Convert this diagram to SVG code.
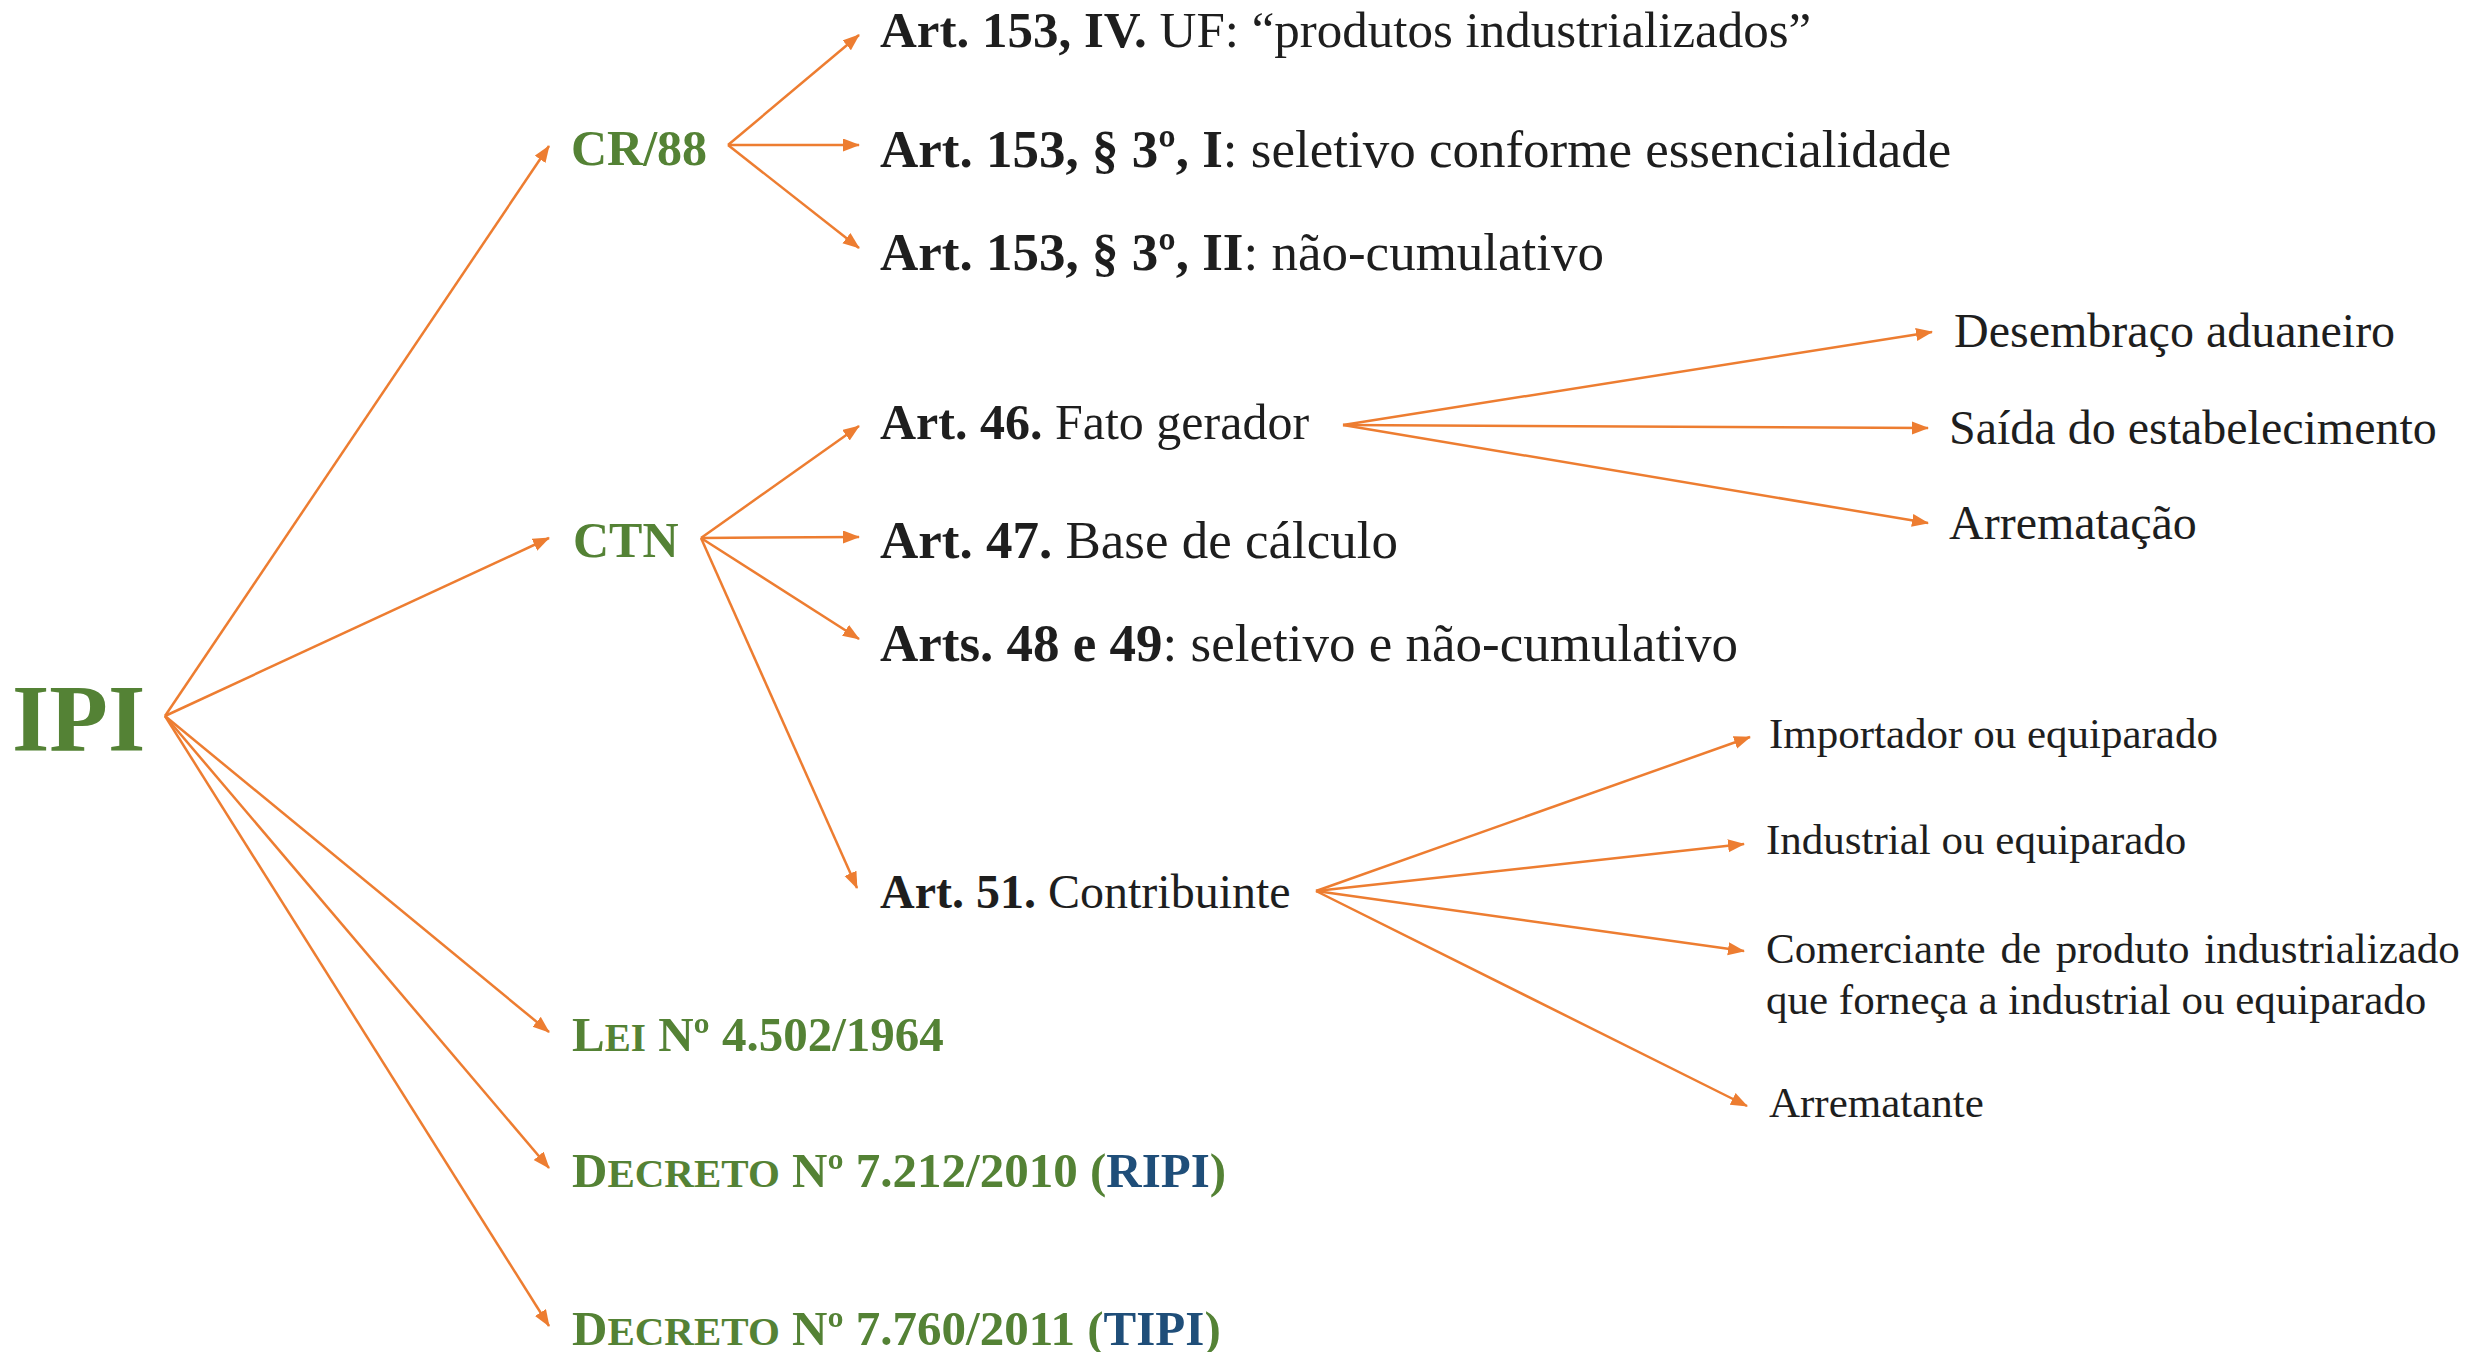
<svg xmlns="http://www.w3.org/2000/svg" width="2483" height="1352" viewBox="0 0 2483 1352">
<defs>
<marker id="ah" markerUnits="userSpaceOnUse" markerWidth="18" markerHeight="14" refX="16" refY="6.5" orient="auto">
<path d="M0,0 L17,6.5 L0,13 z" fill="#ED7D31"/>
</marker>
<style>
text{font-family:"Liberation Serif","Times New Roman",serif}
.g{fill:#548235;font-weight:bold}
.b{fill:#1F4E79}
.t{fill:#1e1e1e}
.bd{font-weight:bold}
.c line{stroke:#ED7D31;stroke-width:2.5;fill:none;marker-end:url(#ah)}
</style>
</defs>
<rect width="2483" height="1352" fill="#fff"/>

<g class="c" id="connectors">
<line x1="165" y1="716" x2="549" y2="146"/>
<line x1="165" y1="716" x2="549" y2="538"/>
<line x1="165" y1="716" x2="549" y2="1032"/>
<line x1="165" y1="716" x2="549" y2="1168"/>
<line x1="165" y1="716" x2="549" y2="1326"/>
<line x1="728" y1="145" x2="859" y2="35"/>
<line x1="728" y1="145" x2="859" y2="145"/>
<line x1="728" y1="145" x2="859" y2="248"/>
<line x1="701" y1="538" x2="859" y2="426"/>
<line x1="701" y1="538" x2="859" y2="537"/>
<line x1="701" y1="538" x2="859" y2="639"/>
<line x1="701" y1="538" x2="857" y2="888"/>
<line x1="1343" y1="425" x2="1932" y2="332"/>
<line x1="1343" y1="425" x2="1928" y2="428"/>
<line x1="1343" y1="425" x2="1928" y2="523"/>
<line x1="1316" y1="891" x2="1750" y2="737"/>
<line x1="1316" y1="891" x2="1744" y2="844"/>
<line x1="1316" y1="891" x2="1744" y2="951"/>
<line x1="1316" y1="891" x2="1747" y2="1106"/>
</g>

<g id="ipi"><text x="12" y="751" class="g" font-size="96">IPI</text></g>
<g id="cr88"><text x="571" y="165" class="g" font-size="50">CR/88</text></g>
<g id="ctn"><text x="573" y="557" class="g" font-size="50">CTN</text></g>
<g id="lei"><text x="572" y="1051" class="g" font-size="49">L<tspan font-size="39">EI</tspan> Nº 4.502/1964</text></g>
<g id="ripi"><text x="572" y="1187" class="g" font-size="49">D<tspan font-size="41">ECRETO</tspan> Nº 7.212/2010 (<tspan class="b">RIPI</tspan>)</text></g>
<g id="tipi"><text x="572" y="1345" class="g" font-size="49">D<tspan font-size="41">ECRETO</tspan> Nº 7.760/2011 (<tspan class="b">TIPI</tspan>)</text></g>

<g id="art153iv"><text x="880" y="47" class="t" font-size="51"><tspan class="bd">Art. 153, IV.</tspan> UF: “produtos industrializados”</text></g>
<g id="art153i"><text x="880" y="167" class="t" font-size="53"><tspan class="bd">Art. 153, § 3º, I</tspan>: seletivo conforme essencialidade</text></g>
<g id="art153ii"><text x="880" y="270" class="t" font-size="53"><tspan class="bd">Art. 153, § 3º, II</tspan>: não-cumulativo</text></g>

<g id="art46"><text x="880" y="439" class="t" font-size="50"><tspan class="bd">Art. 46.</tspan> Fato gerador</text></g>
<g id="art47"><text x="880" y="558" class="t" font-size="53"><tspan class="bd">Art. 47.</tspan> Base de cálculo</text></g>
<g id="art48"><text x="880" y="661" class="t" font-size="53"><tspan class="bd">Arts. 48 e 49</tspan>: seletivo e não-cumulativo</text></g>
<g id="art51"><text x="880" y="908" class="t" font-size="48"><tspan class="bd">Art. 51.</tspan> Contribuinte</text></g>

<g id="desembaraco"><text x="1954" y="347" class="t" font-size="48">Desembraço aduaneiro</text></g>
<g id="saida"><text x="1949" y="444" class="t" font-size="48">Saída do estabelecimento</text></g>
<g id="arrematacao"><text x="1949" y="539" class="t" font-size="48">Arrematação</text></g>

<g id="importador"><text x="1769" y="748" class="t" font-size="43">Importador ou equiparado</text></g>
<g id="industrial"><text x="1766" y="854" class="t" font-size="43">Industrial ou equiparado</text></g>
<g id="comerciante"><text x="1766" y="963" class="t" font-size="43" word-spacing="4">Comerciante de produto industrializado</text><text x="1766" y="1014" class="t" font-size="43">que forneça a industrial ou equiparado</text></g>
<g id="arrematante"><text x="1769" y="1117" class="t" font-size="43">Arrematante</text></g>
</svg>
